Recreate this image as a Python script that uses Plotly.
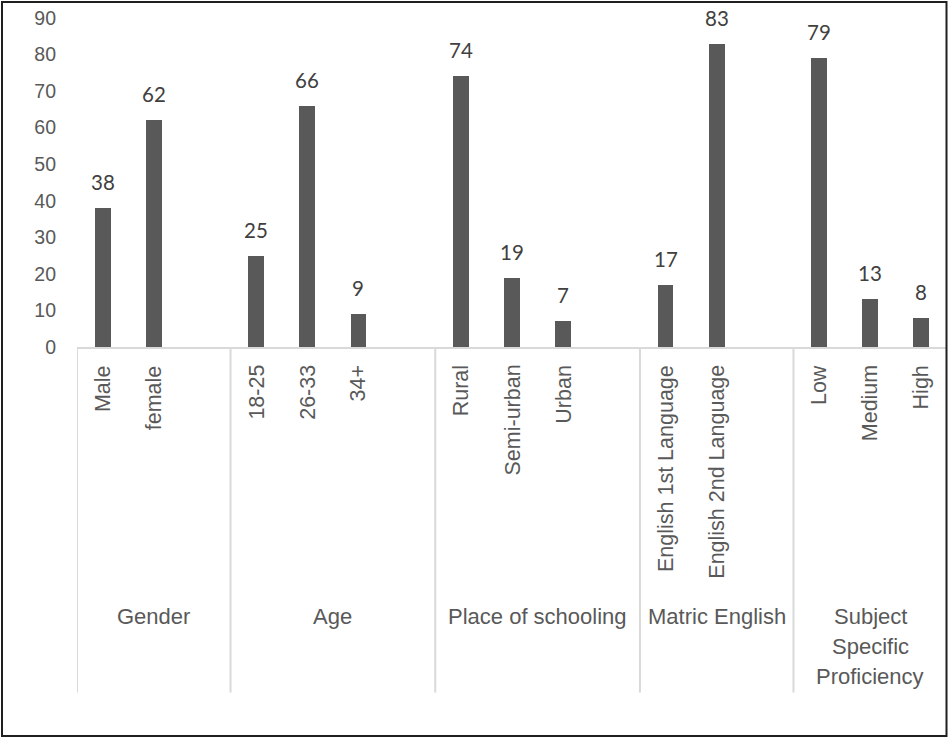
import plotly.graph_objects as go

# ---- data ----
categories = ["Male", "female", "",
              "18-25", "26-33", "34+", "",
              "Rural", "Semi-urban", "Urban", "",
              "English 1st Language", "English 2nd Language", "",
              "Low", "Medium", "High"]
values = [38, 62, None,
          25, 66, 9, None,
          74, 19, 7, None,
          17, 83, None,
          79, 13, 8]
group_labels = ["Gender", "Age", "Place of schooling", "Matric English",
                "Subject<br>Specific<br>Proficiency"]
group_sizes = [3, 4, 4, 3, 3]
y_ticks = [0, 10, 20, 30, 40, 50, 60, 70, 80, 90]

# ---- layout constants ----
W, H = 949, 738
ML, MR, MT, MB = 77, 2, 18, 391
PW, PH = W - ML - MR, H - MT - MB
BAR_COLOR = "#595959"
AXIS_COLOR = "#d9d9d9"
TEXT_COLOR = "#595959"
LABEL_COLOR = "#404040"
SANS = "Liberation Sans, Arial, sans-serif"

n = len(categories)
pos = [i + 0.5 for i in range(n)]
bx = [p for p, v in zip(pos, values) if v is not None]
by = [v for v in values if v is not None]

fig = go.Figure()
fig.add_trace(go.Bar(x=bx, y=by, width=0.31,
                     marker=dict(color=BAR_COLOR, line=dict(width=0)),
                     hoverinfo="skip"))

ann = []
# data labels
for x, v in zip(bx, by):
    ann.append(dict(x=x, y=v, xref="x", yref="y", text=str(v), showarrow=False,
                    yanchor="bottom", xanchor="center", yshift=12,
                    font=dict(family="Lato, Open Sans, sans-serif", size=20.5, color=LABEL_COLOR)))
# category labels (rotated)
for p, c in zip(pos, categories):
    if c:
        ann.append(dict(x=p, y=0, xref="x", yref="paper", text=c, showarrow=False,
                        textangle=-90, yanchor="top", xanchor="center", yshift=-16,
                        font=dict(family=SANS, size=21.5, color=TEXT_COLOR)))

def py2paper(py):
    return (H - MB - py) / PH

def px2paper(px):
    return (px - ML) / PW

shapes = []
start = 0
bounds = [0]
LINE_PITCH = 30
for g, s in zip(group_labels, group_sizes):
    for k, line in enumerate(g.split("<br>")):
        ann.append(dict(x=start + s / 2, y=0, xref="x", yref="paper", text=line, showarrow=False,
                        yanchor="top", xanchor="center",
                        yshift=-(602 - (H - MB)) - k * LINE_PITCH,
                        font=dict(family=SANS, size=22, color=TEXT_COLOR)))
    start += s
    bounds.append(start)

for b in bounds[:-1]:
    shapes.append(dict(type="line", xref="x", yref="paper", x0=b, x1=b,
                       y0=0, y1=py2paper(692.5),
                       line=dict(color=AXIS_COLOR, width=2)))

# outer chart border
shapes.append(dict(type="rect", xref="paper", yref="paper",
                   x0=px2paper(2), x1=px2paper(946.5),
                   y0=py2paper(736), y1=py2paper(2),
                   line=dict(color="#1f1f1f", width=2), fillcolor="rgba(0,0,0,0)"))

fig.update_layout(
    width=W, height=H,
    margin=dict(l=ML, r=MR, t=MT, b=MB),
    paper_bgcolor="white", plot_bgcolor="white",
    showlegend=False,
    annotations=ann, shapes=shapes,
    bargap=0,
    xaxis=dict(range=[0, n], showticklabels=False, showgrid=False, zeroline=False,
               showline=True, linecolor=AXIS_COLOR, linewidth=2, fixedrange=True),
    yaxis=dict(range=[0, 90], tickvals=y_ticks, showgrid=False, zeroline=False,
               showline=False, ticks="", ticklabelstandoff=20,
               tickfont=dict(family=SANS, size=19.5, color=TEXT_COLOR), fixedrange=True),
)

fig.write_html("out.html", config={"displayModeBar": False})
